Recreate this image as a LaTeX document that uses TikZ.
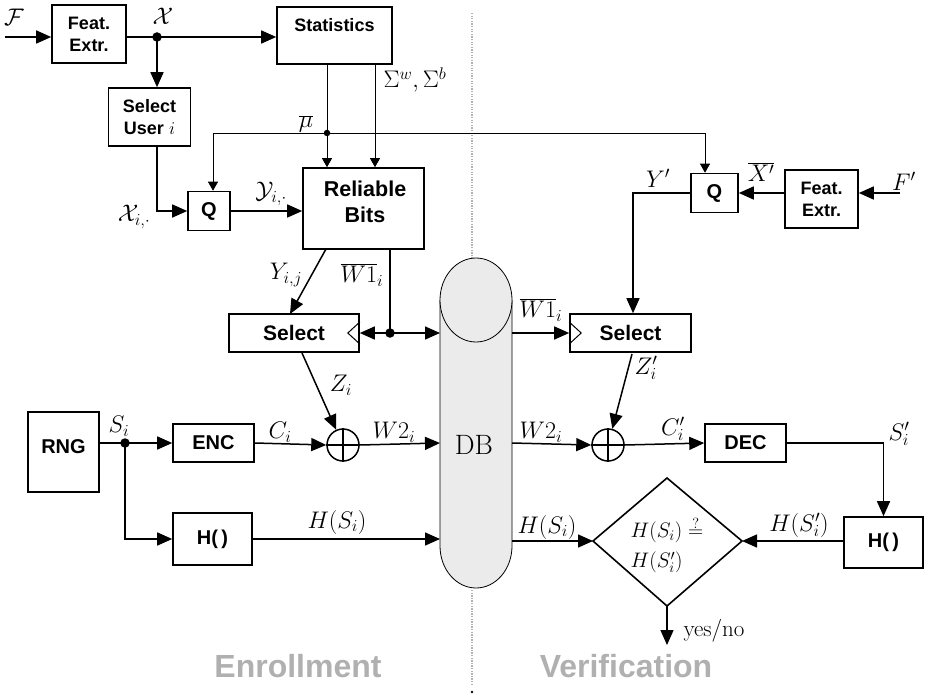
\RequirePackage{fix-cm}
\documentclass[tikz,border=0pt]{standalone}
\usepackage{fontspec}
\newfontfamily\arialf{Liberation Sans}
\usetikzlibrary{arrows.meta}
\tikzset{
  blk/.style={draw, line width=1.6pt, inner sep=0pt, align=center, font=\arialf\bfseries\fontsize{20}{23}\selectfont},
  blkl/.style={blk, font=\arialf\bfseries\fontsize{21}{24}\selectfont},
  blks/.style={blk, font=\arialf\bfseries\fontsize{18}{22}\selectfont},
  txt/.style={inner sep=0pt, align=center, font=\arialf\bfseries\fontsize{20}{24}\selectfont},
  txtl/.style={txt, font=\arialf\bfseries\fontsize{21.5}{26}\selectfont},
  txts/.style={txt, font=\arialf\bfseries\fontsize{18}{22}\selectfont},
  lab/.style={inner sep=0pt, font=\fontsize{24}{28}\selectfont},
  thk/.style={line width=1.5pt},
  thn/.style={line width=0.8pt},
  arr/.style={thk, -{Triangle[length=15pt,width=13pt]}},
  tarr/.style={thn, -{Triangle[length=9pt,width=10pt]}},
  dotn/.style={circle, fill, inner sep=0pt, minimum size=9.5pt},
  tdot/.style={circle, fill, inner sep=0pt, minimum size=6.5pt},
  notch/.style={line width=1pt},
  xorn/.style={circle, draw, line width=1.5pt, minimum size=32pt, inner sep=0pt},
  phase/.style={inner sep=0pt, text=black!31, font=\arialf\bfseries\fontsize{32}{36}\selectfont},
  sep/.style={gray!60, line width=1.3pt, dash pattern=on 1.3pt off 1.3pt},
}
\begin{document}
\begin{tikzpicture}[x=1pt,y=-1pt]
\useasboundingbox (0,0) rectangle (925,698);

% separator
\coordinate (sepA) at (472,13);
\coordinate (sepB) at (472,258);
\coordinate (sepC) at (472,590);
\coordinate (sepD) at (472,686);
\draw[sep] (sepA) -- (sepB);
\draw[sep] (sepC) -- (sepD);
\fill (472,692) circle[radius=1.3pt];

% DB cylinder
\fill[black!8] (440,300) -- (440,546) .. controls (440,569.2) and (456.1,588) .. (476,588)
  .. controls (495.9,588) and (512,569.2) .. (512,546) -- (512,300) -- cycle;
\draw[thn] (440,300) -- (440,546) .. controls (440,569.2) and (456.1,588) .. (476,588)
  .. controls (495.9,588) and (512,569.2) .. (512,546) -- (512,300);
\draw[thn, fill=black!8] (476,300) ellipse [x radius=36pt, y radius=42pt];
\node[inner sep=0pt, font=\fontsize{28}{32}\selectfont] (dbt) at (474,445) {DB};

% ---------- Enrollment ----------
\node[blks, minimum width=74pt, minimum height=58pt] (fe1) at (89,34) {Feat.\\Extr.};
\node[blk, minimum width=115pt, minimum height=57pt] (stat) at (334.5,35.5) {};
\node[txts] (stattxt) at (334.5,25) {Statistics};
\node[blks, minimum width=82pt, minimum height=58pt] (su) at (149.5,117) {Select\\User $i$};
\node[blk, minimum width=42pt, minimum height=39pt] (q1) at (209,211) {Q};
\node[blk, minimum width=121pt, minimum height=81pt] (rb) at (363.5,208.5) {};
\node[txtl] (rbtxt) at (365,202) {Reliable\\Bits};
\node[blkl, minimum width=130pt, minimum height=38pt] (sel1) at (294,333) {Select};
\draw[notch] ([yshift=-11pt]sel1.east) -- ([xshift=-12pt]sel1.east) -- ([yshift=11pt]sel1.east);

\node[blk, minimum width=71pt, minimum height=80pt] (rng) at (63.5,452) {};
\node[txt] (rngtxt) at (63.5,447) {RNG};
\node[blk, minimum width=81pt, minimum height=38pt] (enc) at (213.5,443) {ENC};
\node[blk, minimum width=79pt, minimum height=52pt] (h1) at (212.5,539) {H(\,)};
\node[xorn] (xo1) at (343,445) {};
\draw[thk] (xo1.north) -- (xo1.south) (xo1.west) -- (xo1.east);

% ---------- Verification nodes ----------
\node[blk, minimum width=47pt, minimum height=39pt] (q2) at (714.5,193) {Q};
\node[blks, minimum width=73pt, minimum height=58pt] (fe2) at (821.5,199) {Feat.\\Extr.};
\node[blkl, minimum width=121pt, minimum height=38pt] (sel2) at (630.5,333) {Select};
\draw[notch] ([yshift=-11pt]sel2.west) -- ([xshift=12pt]sel2.west) -- ([yshift=11pt]sel2.west);
\node[xorn] (xo2) at (608,445) {};
\draw[thk] (xo2.north) -- (xo2.south) (xo2.west) -- (xo2.east);
\node[blk, minimum width=81pt, minimum height=38pt] (dec) at (745.5,443) {DEC};
\node[blk, minimum width=79pt, minimum height=51pt] (h2) at (883.5,542.5) {H(\,)};

\coordinate (dL) at (593,541);
\coordinate (dR) at (742,541);
\coordinate (dT) at (667,478);
\coordinate (dB) at (667,606);
\draw[line width=1.6pt] (dL) -- (dT) -- (dR) -- (dB) -- cycle;
\node[inner sep=0pt, align=left, font=\fontsize{21}{30}\selectfont] (dtxt) at (667,545)
  {$H(S_i)\stackrel{?}{=}$\\$H(S'_i)$};

% coordinates
\coordinate (fin) at (5,37);
\coordinate (dotX) at (157,37);
\coordinate (muL) at (213,133);
\coordinate (muD) at (327,133);
\coordinate (muR) at (705,133);
\coordinate (sigT) at (375,64);
\coordinate (w1T) at (390,249);
\coordinate (dotW) at (390,333);
\coordinate (dbW1) at (440,333);
\coordinate (yijA) at (326,249);
\coordinate (yijB) at (290,314);
\coordinate (ziA) at (302,353);
\coordinate (dotS) at (125,443);
\coordinate (dbW2) at (440,443);
\coordinate (dbH) at (440,539);

\draw[arr] (fin) -- (fin -| fe1.west);
\draw[arr] (fe1.east |- dotX) -- (stat.west |- dotX);
\node[dotn] (dX) at (dotX) {};
\draw[arr] (dotX) -- (dotX |- su.north);
\draw[arr] (dotX |- su.south) |- (q1.west);
\draw[thn] (muL) -- (muR);
\draw[tarr] (muL) -- (muL |- q1.north);
\draw[tarr] (muR) -- (muR |- q2.north);
\draw[tarr] (stat.south -| muD) -- (muD |- rb.north);
\node[tdot] (dmu) at (muD) {};
\draw[tarr] (sigT) -- (sigT |- rb.north);
\draw[arr] (q1.east) -- (q1.east -| rb.west);
\draw[arr] (yijA) -- (yijB);
\draw[thk] (w1T) -- (dotW);
\draw[arr] (dotW) -- (dotW -| sel1.east);
\draw[arr] (dotW) -- (dbW1);
\node[dotn] (dW) at (dotW) {};
\draw[arr] (ziA) -- (xo1);

\draw[thk] (rng.east |- dotS) -- (dotS);
\draw[arr] (dotS) -- (dotS -| enc.west);
\node[dotn] (dS) at (dotS) {};
\draw[arr] (dotS) |- (h1.west);
\draw[arr] (enc.east) -- (xo1.west);
\draw[arr] (xo1.east) -- (dbW2);
\draw[arr] (h1.east) -- (dbH);

\coordinate (fpin) at (900,193);
\coordinate (ypc) at (633,193);
\coordinate (dbW1r) at (512,333);
\coordinate (dbW2r) at (512,443);
\coordinate (dbHr) at (512,541);
\coordinate (zpA) at (632,354);
\coordinate (yn) at (667,645);

\draw[arr] (fpin) -- (fpin -| fe2.east);
\draw[arr] (fe2.west |- fpin) -- (q2.east |- fpin);
\draw[arr] (q2.west |- ypc) -- (ypc) -- (ypc |- sel2.north);
\draw[arr] (dbW1r) -- (dbW1r -| sel2.west);
\draw[arr] (zpA) -- (xo2);
\draw[arr] (dbW2r) -- (xo2.west);
\draw[arr] (xo2.east) -- (dec.west);
\draw[arr] (dec.east) -| (h2.north);
\draw[arr] (h2.west |- dR) -- (dR);
\draw[arr] (dbHr) -- (dL);
\draw[arr] (dB) -- (yn);

% ---------- labels ----------
\node[lab] (lF) at (14,17) {$\mathcal{F}$};
\node[lab] (lX) at (163,16) {$\mathcal{X}$};
\node[lab] (lmu) at (306,124) {$\overline{\mu}$};
\node[lab] (lsig) at (415,80) {$\Sigma^w,\Sigma^b$};
\node[lab] (lXi) at (134,217) {$\mathcal{X}_{i,\cdot}$};
\node[lab] (lYi) at (271,194) {$\mathcal{Y}_{i,\cdot}$};
\node[lab] (lYij) at (286,275) {$Y_{i,j}$};
\node[lab] (lW1) at (362,275) {$\overline{W1}_i$};
\node[lab] (lZ) at (341,385) {$Z_i$};
\node[lab] (lS) at (119,426) {$S_i$};
\node[lab] (lC) at (280,432) {$C_i$};
\node[lab] (lW2) at (394,432) {$W2_i$};
\node[lab] (lH) at (337,522) {$H(S_i)$};
\node[lab] (lW2r) at (541,432) {$W2_i$};
\node[lab] (lCr) at (673,429) {$C'_i$};
\node[lab] (lSr) at (899,434) {$S'_i$};
\node[lab] (lHr) at (547,527) {$H(S_i)$};
\node[lab] (lHp) at (799,525) {$H(S'_i)$};
\node[lab] (lYp) at (658,178) {$Y'$};
\node[lab] (lXp) at (761,172) {$\overline{X'}$};
\node[lab] (lFp) at (904,181) {$F'$};
\node[lab] (lW1r) at (541,310) {$\overline{W1}_i$};
\node[lab] (lZp) at (646,368) {$Z'_i$};
\node[inner sep=0pt, font=\fontsize{23}{26}\selectfont] (lyn) at (714,631) {yes/no};

\node[phase] (enr) at (298,666) {Enrollment};
\node[phase] (ver) at (626,666) {Verification};
\end{tikzpicture}
\end{document}
